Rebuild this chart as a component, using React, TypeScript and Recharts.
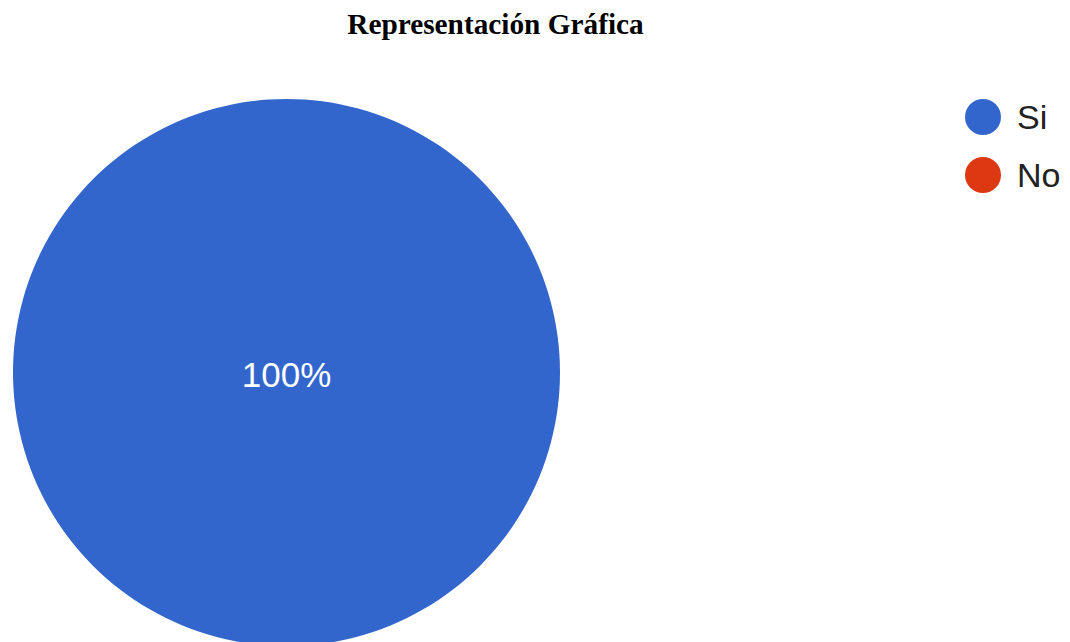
import React from 'react';
import { Pie, PieChart, Cell, Legend } from 'recharts';

const categories = ['Si', 'No'];
const values = [100, 0];
const colors = ['#3366CC', '#DC3912'];

const data = categories.map((name, i) => ({ name, value: values[i] }));

const renderLabel = (props: any) => {
  const { cx, cy, percent } = props;
  if (!percent || percent < 0.05) return null;
  return (
    <text
      x={cx}
      y={cy + 1.5}
      fill="#FFFFFF"
      textAnchor="middle"
      dominantBaseline="central"
      fontSize={35}
      fontFamily="Arial, 'Liberation Sans', sans-serif"
    >
      {`${(percent * 100).toFixed(0)}%`}
    </text>
  );
};

const renderLegend = (props: any) => {
  // keep the legend in data order, not alphabetical
  const items = [...(props.payload || [])].sort(
    (a: any, b: any) => categories.indexOf(a.value) - categories.indexOf(b.value)
  );
  return (
    <div>
      {items.map((entry: any, i: number) => (
        <div
          key={`leg-${i}`}
          style={{ display: 'flex', alignItems: 'center', height: 36, marginBottom: 22 }}
        >
          <svg width={36} height={36} style={{ flex: 'none' }}>
            <circle cx={18} cy={18} r={18} fill={entry.color} />
          </svg>
          <span
            style={{
              marginLeft: 16,
              fontSize: 34,
              color: '#222222',
              fontFamily: "Arial, 'Liberation Sans', sans-serif",
              lineHeight: 1,
            }}
          >
            {entry.value}
          </span>
        </div>
      ))}
    </div>
  );
};

export default function App() {
  return (
    <div style={{ position: 'absolute', left: 0, top: 0, width: 1070, height: 642, background: '#FFFFFF', overflow: 'hidden' }}>
      <div
        style={{
          position: 'absolute',
          left: 0,
          top: 10,
          width: 991,
          textAlign: 'center',
          fontFamily: "'Times New Roman', 'Liberation Serif', serif",
          fontWeight: 'bold',
          fontSize: 29.3,
          lineHeight: '29px',
          color: '#000000',
        }}
      >
        Representación Gráfica
      </div>
      <PieChart width={1070} height={642} margin={{ top: 0, right: 0, bottom: 0, left: 0 }}>
        <Pie
          data={data}
          dataKey="value"
          nameKey="name"
          cx={286.5}
          cy={372.5}
          outerRadius={273.5}
          startAngle={90}
          endAngle={-270}
          stroke="none"
          label={renderLabel}
          labelLine={false}
          isAnimationActive={false}
        >
          {data.map((d, i) => (
            <Cell key={d.name} fill={colors[i]} />
          ))}
        </Pie>
        <Legend
          layout="vertical"
          align="right"
          verticalAlign="top"
          content={renderLegend}
          wrapperStyle={{ position: 'absolute', top: 99, left: 965, width: 105 }}
        />
      </PieChart>
    </div>
  );
}
